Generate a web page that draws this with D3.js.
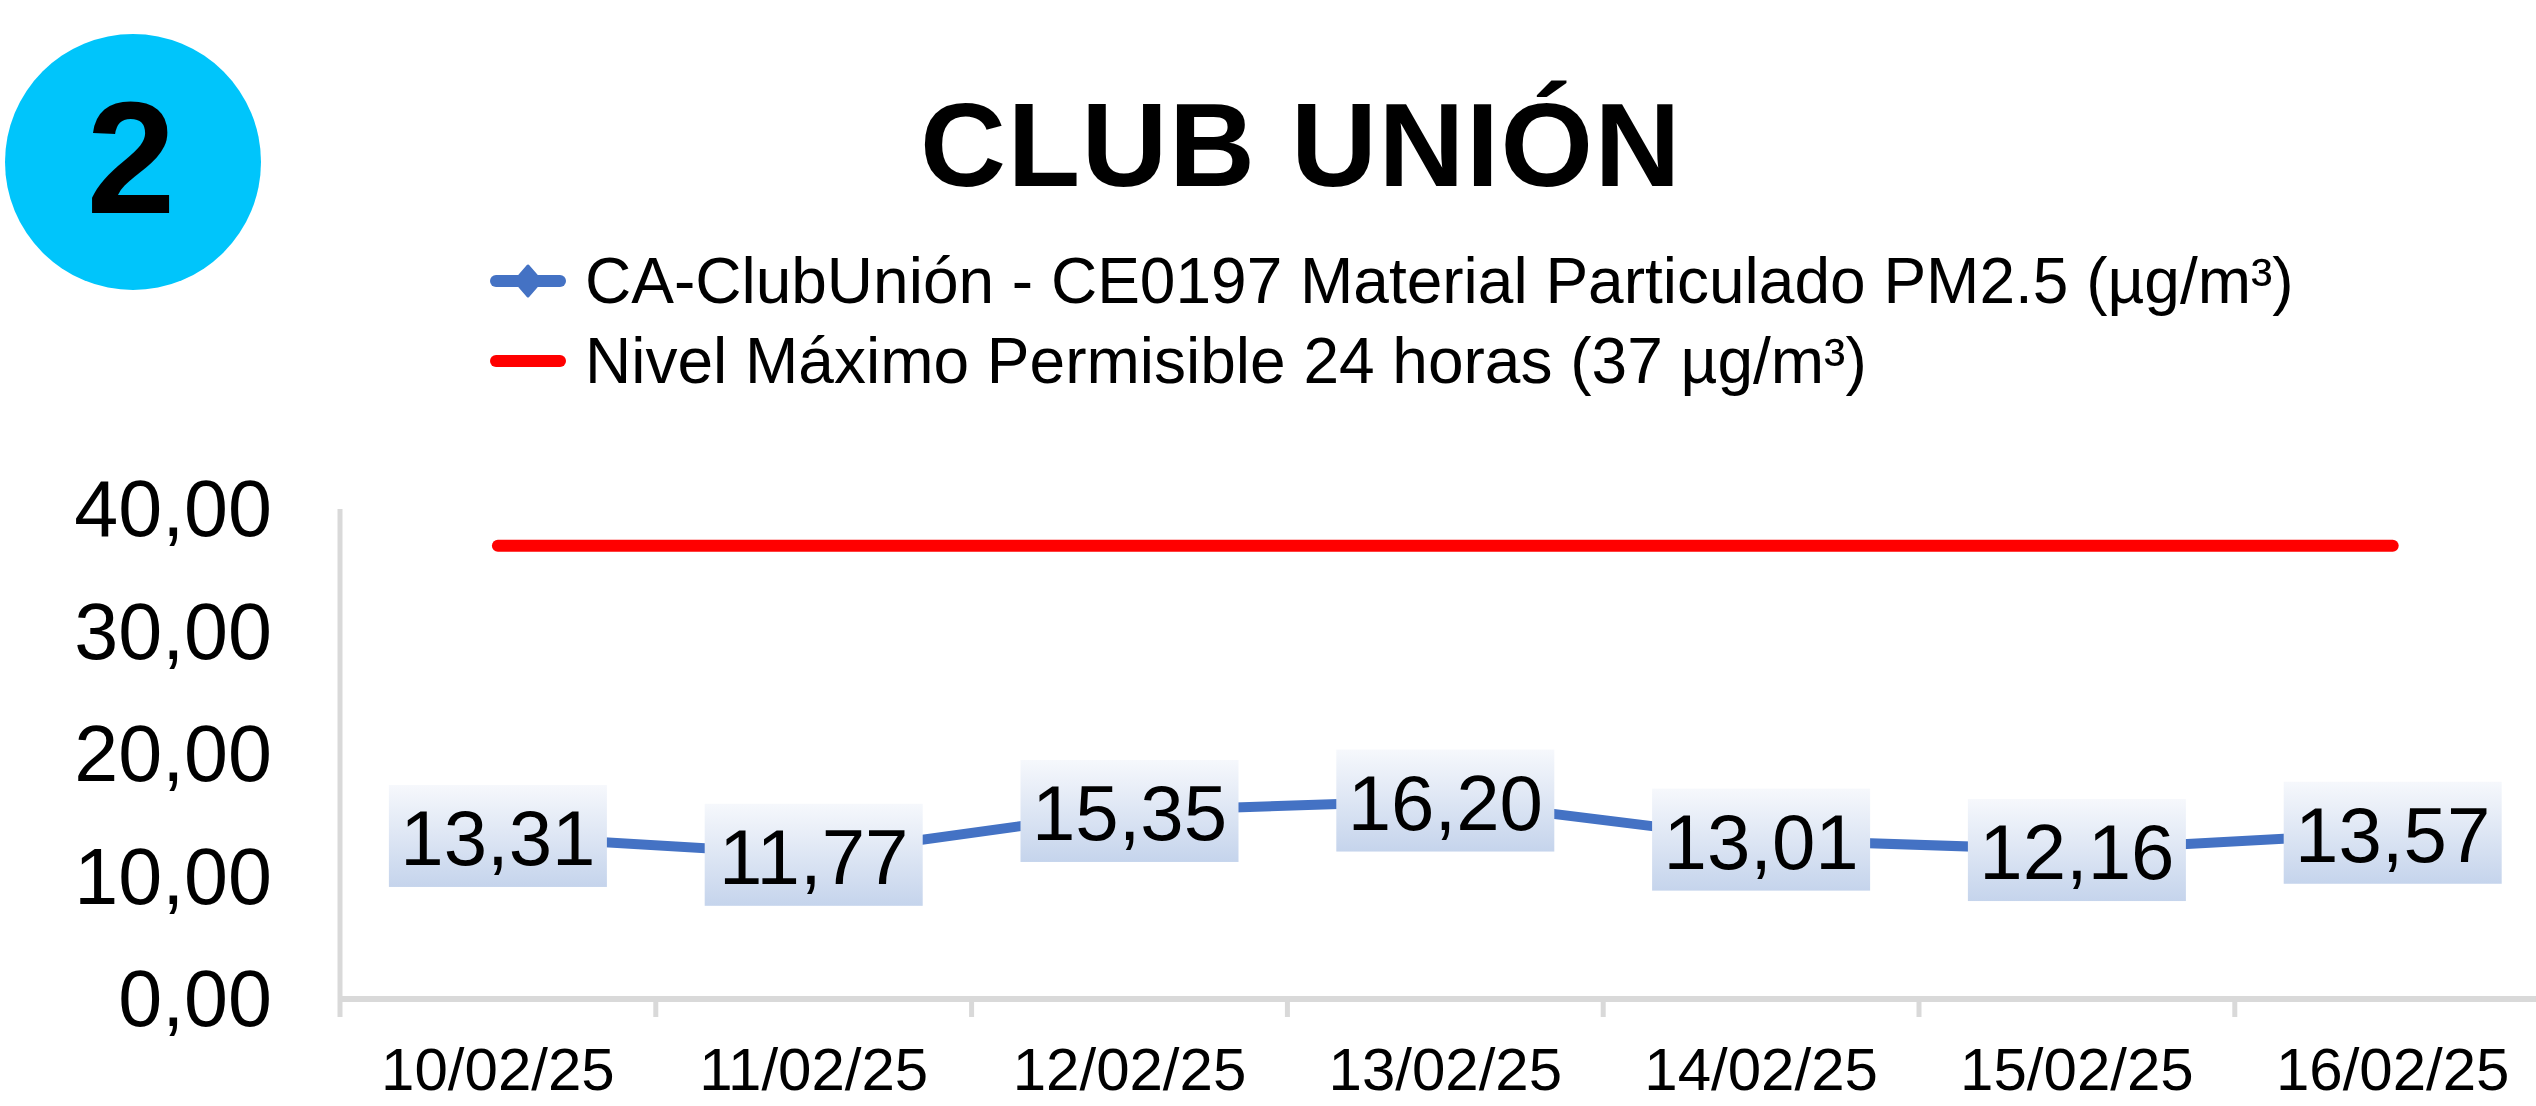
<!DOCTYPE html>
<html>
<head>
<meta charset="utf-8">
<script src="https://cdn.jsdelivr.net/npm/d3@7"></script>
<style>
html,body{margin:0;padding:0;background:#fff;overflow:hidden;}
text{font-family:"Liberation Sans",Arial,sans-serif;}
</style>
</head>
<body>
<svg id="chart" width="2536" height="1106"></svg>
<script>
const categories = ["10/02/25","11/02/25","12/02/25","13/02/25","14/02/25","15/02/25","16/02/25"];
const pm25Values = [13.31, 11.77, 15.35, 16.20, 13.01, 12.16, 13.57];
const limitValues = [37, 37, 37, 37, 37, 37, 37];
const yTicks = [0, 10, 20, 30, 40];
const titleText = "CLUB UNIÓN";
const badgeText = "2";
const seriesNames = ["CA-ClubUnión - CE0197 Material Particulado PM2.5 (µg/m³)", "Nivel Máximo Permisible 24 horas (37 µg/m³)"];

const svg = d3.select("#chart");
const fmt = v => d3.format(".2f")(v).replace(".", ",");

const x = d3.scaleBand().domain(categories).range([340, 340 + 7 * 315.8]).padding(0);
const y = d3.scaleLinear().domain([0, 40]).range([999, 509]);
const cx = d => x(d) + x.bandwidth() / 2;

// gradient for data labels
const defs = svg.append("defs");
const g = defs.append("linearGradient").attr("id","lblGrad").attr("x1",0).attr("y1",0).attr("x2",0).attr("y2",1);
g.append("stop").attr("offset","0%").attr("stop-color","#f6f8fc");
g.append("stop").attr("offset","100%").attr("stop-color","#c5d4ec");

// badge
svg.append("circle").attr("cx",133).attr("cy",162).attr("r",128).attr("fill","#00c5fb");
svg.append("text").attr("x",131).attr("y",213).attr("text-anchor","middle")
  .attr("font-size",160).attr("font-weight","bold").attr("fill","#000").text(badgeText);

// title
svg.append("text").attr("x",1301).attr("y",186).attr("text-anchor","middle")
  .attr("font-size",119).attr("font-weight","bold").attr("letter-spacing",1.5).attr("fill","#000").text(titleText);

// legend
const lg = svg.append("g");
lg.append("line").attr("x1",496).attr("x2",560).attr("y1",281).attr("y2",281)
  .attr("stroke","#4472c4").attr("stroke-width",12).attr("stroke-linecap","round");
lg.append("path").attr("d","M528,266 L541,281 L528,296 L515,281 Z").attr("fill","#4472c4")
  .attr("stroke","#4472c4").attr("stroke-width",3).attr("stroke-linejoin","round");
lg.append("text").attr("x",585).attr("y",303).attr("font-size",64).attr("fill","#000").text(seriesNames[0]);
lg.append("line").attr("x1",496).attr("x2",560).attr("y1",361).attr("y2",361)
  .attr("stroke","#ff0000").attr("stroke-width",12).attr("stroke-linecap","round");
lg.append("text").attr("x",585).attr("y",383).attr("font-size",64).attr("fill","#000").text(seriesNames[1]);

// axes
const axisColor = "#d9d9d9";
svg.append("line").attr("x1",340).attr("x2",340).attr("y1",y(40)).attr("y2",1017)
  .attr("stroke",axisColor).attr("stroke-width",5);
svg.append("line").attr("x1",338).attr("x2",2560).attr("y1",y(0)).attr("y2",y(0))
  .attr("stroke",axisColor).attr("stroke-width",6);
svg.selectAll(".xtick").data(categories).enter().append("line")
  .attr("x1",d=>x(d)+x.bandwidth()).attr("x2",d=>x(d)+x.bandwidth())
  .attr("y1",y(0)).attr("y2",1017).attr("stroke",axisColor).attr("stroke-width",5);

svg.selectAll(".ylab").data(yTicks).enter().append("text")
  .attr("x",272).attr("y",d=>y(d)+27).attr("text-anchor","end")
  .attr("font-size",79).attr("fill","#000").text(d=>fmt(d));

svg.selectAll(".xlab").data(categories).enter().append("text")
  .attr("x",d=>cx(d)).attr("y",1090).attr("text-anchor","middle")
  .attr("font-size",60).attr("fill","#000").text(d=>d);

// limit line
svg.append("path").datum(limitValues)
  .attr("d", d3.line().x((d,i)=>cx(categories[i])).y(d=>y(d)))
  .attr("fill","none").attr("stroke","#ff0000").attr("stroke-width",12).attr("stroke-linecap","round");

// PM2.5 line
svg.append("path").datum(pm25Values)
  .attr("d", d3.line().x((d,i)=>cx(categories[i])).y(d=>y(d)))
  .attr("fill","none").attr("stroke","#4472c4").attr("stroke-width",10).attr("stroke-linejoin","round");

// data labels
const lab = svg.selectAll(".dl").data(pm25Values).enter().append("g")
  .attr("transform",(d,i)=>`translate(${cx(categories[i])},${y(d)})`);
lab.append("rect").attr("x",-109).attr("y",-51).attr("width",218).attr("height",102).attr("fill","url(#lblGrad)");
lab.append("text").attr("x",0).attr("y",29).attr("text-anchor","middle")
  .attr("font-size",78).attr("fill","#000").text(d=>fmt(d));
</script>
</body>
</html>
